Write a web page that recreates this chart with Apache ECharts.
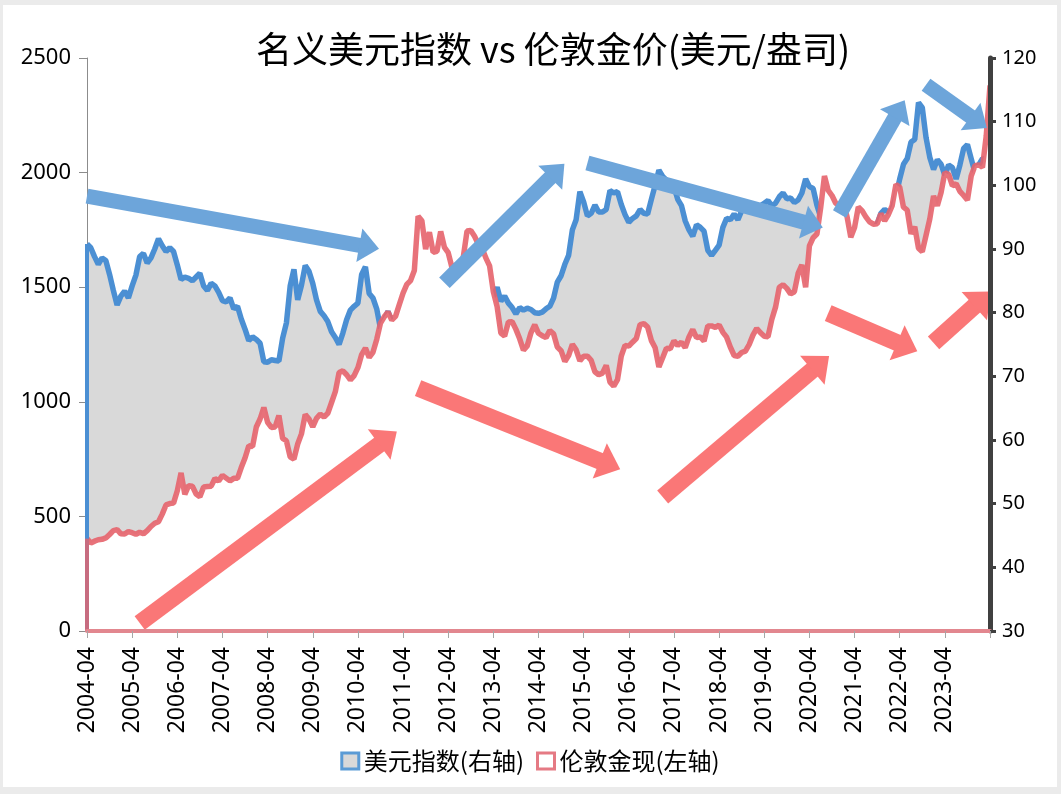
<!DOCTYPE html>
<html>
<head>
<meta charset="utf-8">
<script src="https://cdn.jsdelivr.net/npm/echarts@6/dist/echarts.min.js"></script>
<style>
  html, body { margin: 0; padding: 0; background: #ebebeb; }
  #main { position: absolute; left: 3px; top: 5px; width: 1054px; height: 782px; background: #fff; }
</style>
</head>
<body>
<div id="main"></div>
<script>
// monthly, 2004-04 .. 2024-04
const startYear = 2004, startMonth = 4, monthCount = 241;

// 名义美元指数 (right axis)
const usdIndex = [
  90.8, 90.2, 88.8, 87.6, 88.6, 88.2, 86.0, 83.5, 81.2,
  82.6, 83.4, 82.3, 84.2, 85.9, 88.8, 89.3, 87.8, 88.6, 90.0, 91.6, 90.5,
  89.6, 90.2, 89.6, 87.5, 85.2, 85.6, 85.4, 85.0, 85.6, 86.2, 84.2, 83.5,
  84.6, 84.2, 83.2, 81.9, 81.7, 82.3, 80.6, 81.0, 79.0, 77.4, 75.6, 76.2,
  75.8, 75.2, 72.3, 72.2, 72.6, 72.5, 72.4, 76.0, 78.4, 84.2, 86.8, 82.0,
  84.3, 87.4, 86.5, 84.6, 82.0, 80.2, 79.5, 78.6, 77.0, 76.1, 75.0, 76.8,
  78.9, 80.4, 81.0, 81.5, 86.0, 87.2, 83.0, 82.3, 80.6, 77.5, 78.8, 80.2,
  78.5, 77.5, 76.2, 74.5, 75.0, 74.8, 74.2, 74.3, 77.0, 77.0, 78.2, 79.5,
  80.5, 79.0, 79.4, 79.6, 81.6, 82.2, 82.8, 82.0, 79.8, 79.7, 80.5, 79.8,
  79.8, 80.6, 82.6, 82.6, 84.0, 81.8, 82.6, 81.5, 80.8, 79.8, 80.8, 80.4,
  80.7, 80.5, 80.0, 79.9, 80.1, 80.6, 81.0, 82.3, 84.8, 85.8, 87.6, 89.0,
  93.0, 94.6, 99.0, 97.4, 95.2, 95.6, 96.9, 95.8, 95.8, 96.2, 99.2, 98.8,
  99.0, 97.0, 95.4, 94.2, 94.8, 95.2, 96.2, 95.6, 95.5, 97.8, 100.0, 102.4,
  101.4, 100.8, 100.2, 99.8, 97.8, 96.8, 94.4, 93.0, 92.0, 93.8, 93.4, 92.8,
  89.8, 89.0, 89.8, 90.6, 93.4, 94.8, 94.6, 95.5, 94.6, 96.0, 96.8, 96.8,
  95.8, 96.5, 96.8, 97.2, 97.6, 96.8, 97.2, 98.2, 98.8, 97.9, 98.0, 97.3,
  97.7, 98.8, 101.0, 99.8, 99.5, 96.9, 95.0, 93.0, 93.3, 93.3, 92.3, 90.3,
  90.2, 90.6, 92.0, 91.3, 90.1, 91.0, 92.5, 92.8, 93.2, 93.9, 95.6, 96.2,
  95.8, 96.2, 98.3, 101.0, 103.3, 104.2, 106.8, 107.2, 113.0, 112.2, 107.5, 104.4,
  102.5, 104.0, 103.3, 101.6, 103.2, 102.8, 101.0, 103.2, 105.8, 106.4, 104.2, 102.0,
  103.2, 104.2, 104.0, 105.8
];

// 伦敦金现, 美元/盎司 (left axis)
const goldPrice = [
  403, 384, 392, 398, 400, 406, 421, 438, 442,
  424, 423, 434, 429, 422, 431, 424, 438, 456, 470, 477, 510,
  550, 556, 558, 612, 690, 596, 634, 632, 598, 586, 628, 630,
  632, 665, 655, 679, 667, 655, 666, 666, 713, 755, 808, 805,
  890, 925, 975, 910, 888, 890, 940, 840, 830, 760, 750, 816,
  860, 945, 925, 891, 928, 946, 934, 950, 997, 1044, 1128, 1135,
  1118, 1095, 1114, 1149, 1206, 1234, 1194, 1216, 1272, 1343, 1371, 1392,
  1357, 1373, 1424, 1474, 1512, 1529, 1573, 1810, 1790, 1666, 1740, 1652,
  1656, 1743, 1674, 1651, 1586, 1597, 1594, 1630, 1745, 1748, 1722, 1688,
  1671, 1628, 1593, 1480, 1415, 1300, 1287, 1348, 1349, 1316, 1275, 1225,
  1244, 1301, 1336, 1299, 1288, 1280, 1311, 1297, 1239, 1223, 1176, 1202,
  1251, 1227, 1179, 1199, 1199, 1181, 1131, 1118, 1125, 1159, 1086, 1068,
  1097, 1200, 1246, 1243, 1260, 1276, 1337, 1341, 1326, 1267, 1236, 1152,
  1192, 1234, 1231, 1266, 1246, 1260, 1236, 1283, 1315, 1280, 1283, 1265,
  1331, 1331, 1325, 1335, 1303, 1282, 1238, 1202, 1199, 1215, 1221, 1250,
  1291, 1320, 1301, 1286, 1284, 1359, 1413, 1500, 1511, 1495, 1471, 1480,
  1560, 1597, 1500, 1680, 1716, 1732, 1847, 1985, 1922, 1900, 1866, 1858,
  1867, 1808, 1718, 1760, 1850, 1834, 1807, 1785, 1775, 1777, 1821, 1790,
  1817, 1856, 1948, 1937, 1849, 1836, 1733, 1764, 1670, 1655, 1726, 1798,
  1898, 1855, 1913, 2000, 1992, 1943, 1951, 1918, 1900, 1880, 1985, 2030,
  2034, 2023, 2160, 2380
];

// trend arrows drawn over the chart: [fromIndex, fromValue, toIndex, toValue]
const usdArrows = [
  [0, 98.3, 75, 90.3],
  [95, 84.7, 125, 102.3],
  [133, 103.5, 193, 93.8],
  [200, 95.5, 216, 112.0],
  [223, 115.8, 237, 109.9]
];
const goldArrows = [
  [14, 35, 80, 842],
  [88, 1060, 139, 724],
  [153, 585, 195, 1169],
  [197, 1387, 218, 1239],
  [225, 1257, 238, 1449]
];

const months = [];
for (let i = 0; i < monthCount; i++) {
  const m = startMonth - 1 + i;
  const y = startYear + Math.floor(m / 12);
  const mm = (m % 12) + 1;
  months.push(y + '-' + (mm < 10 ? '0' + mm : mm));
}

const blueLine = '#4b8fd3';
const redLine = '#e6636c';
const blueArrow = '#6da5da';
const redArrow = '#fa7777';
const numFont = 'Noto Sans';
const cjkFont = 'Noto Sans CJK SC';

const toMarkLines = (arr) => arr.map(a => [{ coord: [a[0], a[1]] }, { coord: [a[2], a[3]] }]);

const chart = echarts.init(document.getElementById('main'));

const option = {
  animation: false,
  title: {
    text: '名义美元指数 vs 伦敦金价(美元/盎司)',
    left: 545,
    textAlign: 'center',
    top: 21,
    textStyle: { fontFamily: cjkFont, fontSize: 36, fontWeight: 'normal', color: '#000' }
  },
  legend: {
    left: 'center',
    top: 739,
    itemWidth: 17,
    itemHeight: 16,
    itemGap: 12,
    icon: 'rect',
    textStyle: { fontFamily: cjkFont, fontSize: 24, color: '#000' },
    data: [
      { name: '美元指数(右轴)', itemStyle: { color: '#d9d9d9', borderColor: '#5b9bd5', borderWidth: 3 } },
      { name: '伦敦金现(左轴)', itemStyle: { color: '#fff', borderColor: '#e57a84', borderWidth: 3 } }
    ]
  },
  grid: { left: 84, right: 67, top: 53, bottom: 156 },
  xAxis: {
    type: 'category',
    data: months,
    boundaryGap: false,
    z: 10,
    axisLine: { lineStyle: { color: '#e2878f', width: 4 } },
    axisTick: { interval: (i) => i % 12 === 0, length: 7, lineStyle: { color: '#a6a6a6' } },
    axisLabel: {
      interval: (i) => i % 12 === 0 && i < monthCount - 1,
      rotate: 90,
      margin: 16,
      fontFamily: numFont,
      fontSize: 23,
      color: '#000'
    },
    splitLine: { show: false }
  },
  yAxis: [
    {
      type: 'value',
      min: 0, max: 2500, interval: 500,
      axisLine: { show: true, lineStyle: { color: '#8c8c8c', width: 1 } },
      axisTick: { show: true, length: 8, lineStyle: { color: '#8c8c8c' } },
      axisLabel: { margin: 16, fontFamily: numFont, fontSize: 22, color: '#000', formatter: (v) => String(v) },
      splitLine: { show: false }
    },
    {
      type: 'value',
      min: 30, max: 120, interval: 10,
      position: 'right',
      z: 10,
      axisLine: { show: true, lineStyle: { color: '#404040', width: 5 } },
      axisTick: { show: true, length: 6, lineStyle: { color: '#404040', width: 3 } },
      axisLabel: { margin: 12, fontFamily: numFont, fontSize: 20, color: '#000' },
      splitLine: { show: false }
    }
  ],
  series: [
    {
      name: '美元指数(右轴)',
      type: 'line',
      yAxisIndex: 1,
      data: usdIndex,
      symbol: 'none',
      z: 2,
      lineStyle: { color: blueLine, width: 5.5 },
      itemStyle: { color: blueLine },
      areaStyle: { color: '#d9d9d9', opacity: 1 },
      markLine: {
        silent: true, symbol: 'none', label: { show: false },
        lineStyle: { color: blueLine, width: 4, type: 'solid' },
        data: [[{ coord: [0, 30] }, { coord: [0, usdIndex[0]] }]]
      }
    },
    {
      name: '伦敦金现(左轴)',
      type: 'line',
      yAxisIndex: 0,
      data: goldPrice,
      symbol: 'none',
      z: 3,
      lineStyle: { color: redLine, width: 5.5, opacity: 0.9 },
      itemStyle: { color: redLine },
      areaStyle: { color: '#fff', opacity: 1 },
      markLine: {
        silent: true, symbol: 'none', label: { show: false },
        lineStyle: { color: redLine, width: 4, type: 'solid', opacity: 0.8 },
        data: [
          [{ coord: [0, 0] }, { coord: [0, goldPrice[0]] }],
          [{ coord: [monthCount - 1, 0] }, { coord: [monthCount - 1, goldPrice[monthCount - 1]] }]
        ]
      }
    },
    {
      name: 'usdArrows',
      type: 'line',
      yAxisIndex: 1,
      data: [],
      z: 6,
      markLine: {
        silent: true,
        symbol: ['none', 'triangle'],
        symbolSize: [34, 20],
        label: { show: false },
        lineStyle: { color: blueArrow, width: 15, type: 'solid', opacity: 1 },
        data: toMarkLines(usdArrows)
      }
    },
    {
      name: 'goldArrows',
      type: 'line',
      yAxisIndex: 0,
      data: [],
      z: 6,
      markLine: {
        silent: true,
        symbol: ['none', 'triangle'],
        symbolSize: [38, 22],
        label: { show: false },
        lineStyle: { color: redArrow, width: 17, type: 'solid', opacity: 1 },
        data: toMarkLines(goldArrows)
      }
    }
  ]
};

chart.setOption(option);
</script>
</body>
</html>
